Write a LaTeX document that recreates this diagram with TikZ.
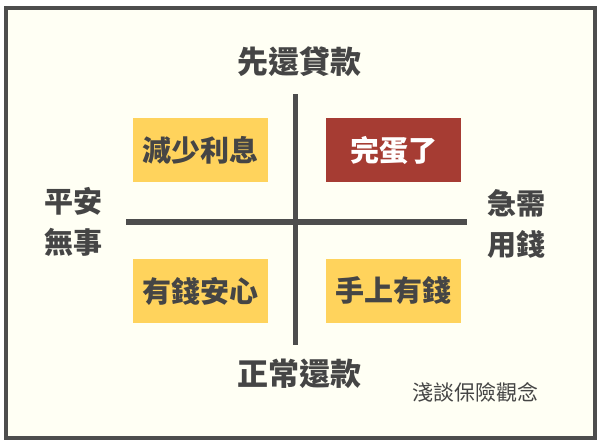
\documentclass[tikz,border=0pt]{standalone}
\usepackage{fontspec}
\usepackage{xcolor}
\usepackage{tikz}
\newfontfamily\cjk{Noto Sans CJK TC}
\definecolor{papier}{HTML}{FFFFF4}
\definecolor{tinta}{HTML}{454545}
\definecolor{linea}{HTML}{4D4D4D}
\definecolor{giallo}{HTML}{FFD35C}
\definecolor{rosso}{HTML}{A63C33}

\begin{document}
\begin{tikzpicture}[x=1pt,y=-1pt,
  casella/.style={fill=giallo,minimum width=135pt,minimum height=64pt,inner sep=0pt,
    text=tinta,font=\cjk\bfseries\fontsize{29}{29}\selectfont},
  asse/.style={text=tinta,align=center,inner sep=0pt,
    font=\cjk\bfseries\fontsize{29}{41}\selectfont}]
  \fill[white] (0,0) rectangle (600,445);
  \useasboundingbox (0,0) rectangle (600,445);
  \draw[linea,line width=4pt,fill=papier] (6,7.5) rectangle (594.5,438);
  \coordinate (su) at (295.5,94);
  \coordinate (giu) at (295.5,345);
  \coordinate (sx) at (126,221.5);
  \coordinate (dx) at (467,221.5);
  \draw[linea,line width=5.5pt] (su) -- (giu);
  \draw[linea,line width=6pt] (sx) -- (dx);
  \node[casella] (ridurre) at (200.5,150) {減少利息};
  \node[casella,fill=rosso,text=white] (finito) at (393.5,150) {完蛋了};
  \node[casella] (tranquillo) at (200.5,291) {有錢安心};
  \node[casella] (inmano) at (393.5,291) {手上有錢};
  \node[asse,font=\cjk\bfseries\fontsize{31}{31}\selectfont] (prima) at (299.5,62) {先還貸款};
  \node[asse,font=\cjk\bfseries\fontsize{31}{31}\selectfont] (normale) at (299.5,374) {正常還款};
  \node[asse] (pace) at (73,222) {平安\\無事};
  \node[asse] (urgente) at (516,224) {急需\\用錢};
  \node[text=tinta,inner sep=0pt,font=\cjk\fontsize{21}{21}\selectfont] (titolo) at (475,392) {淺談保險觀念};
\end{tikzpicture}
\end{document}
